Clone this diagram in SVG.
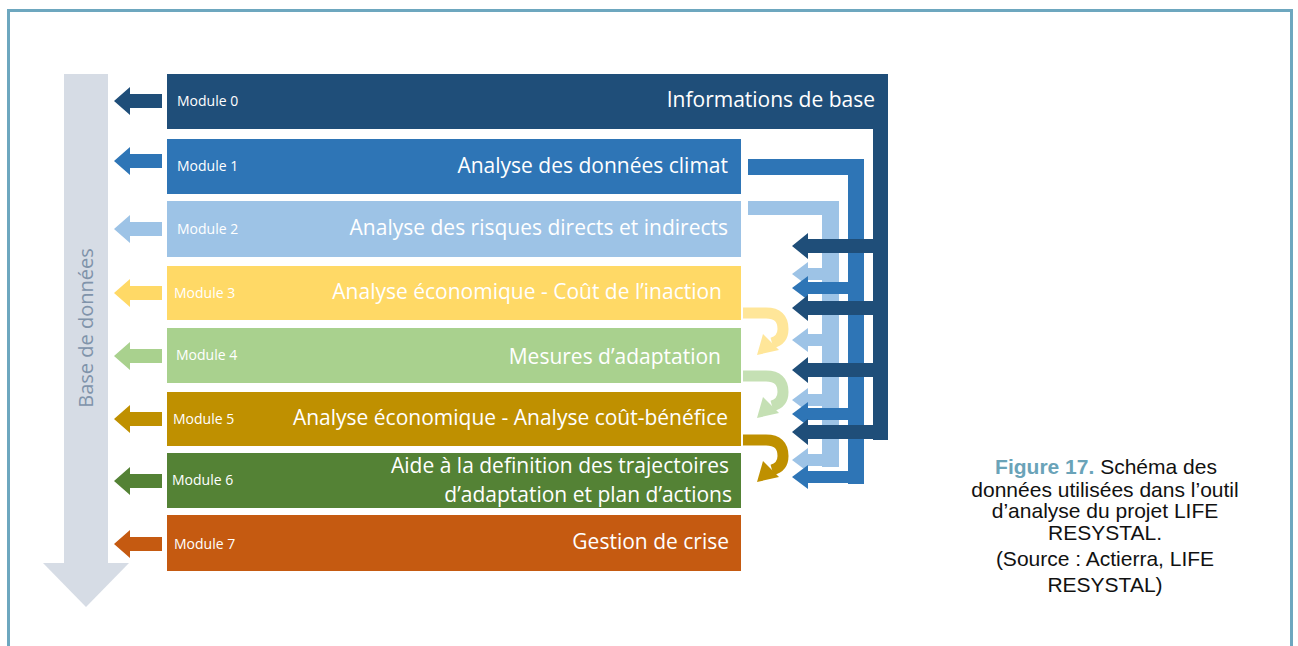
<svg xmlns="http://www.w3.org/2000/svg" width="1298" height="646" viewBox="0 0 1298 646">
<style>
.lbl{font-family:"Open Sans","Noto Sans",sans-serif;font-size:14px;fill:#ffffff}
.ttl{font-family:"Open Sans","Noto Sans",sans-serif;font-size:21px;fill:#ffffff;text-anchor:end}
.cap{font-family:"Liberation Sans",Arial,sans-serif;font-size:21px;fill:#111111;text-anchor:middle}
.c0{fill:#1f4e79}.c1{fill:#2e75b6}.c2{fill:#9dc3e6}.c3{fill:#ffd966}.c4{fill:#a9d18e}.c5{fill:#bf9000}.c6{fill:#548235}.c7{fill:#c55a11}
</style>
<defs>
<polygon id="la" points="0,0 16,-14 16,-7 48,-7 48,7 16,7 16,14"/>
</defs>
<rect width="1298" height="646" fill="#ffffff"/>
<path d="M8.5,646 V10.5 H1291.5 V646" fill="none" stroke="#6da7bf" stroke-width="3"/>

<g id="database">
<rect x="64" y="74" width="44" height="490" fill="#d6dce5"/>
<polygon points="43,563 129,563 86,607" fill="#d6dce5"/>
<text transform="translate(93,328) rotate(-90)" text-anchor="middle" font-family="Open Sans, Noto Sans, sans-serif" font-size="20" fill="#8093aa">Base de données</text>
</g>

<g id="connectors">
<g class="c2">
<path d="M748,201 H839 V467 H822 V215 H748 Z"/>
<polygon points="792,274 808,262 808,268 839,268 839,280 808,280 808,286"/>
<polygon points="792,340 808,328 808,334 839,334 839,346 808,346 808,352"/>
<polygon points="792,400 808,388 808,394 839,394 839,406 808,406 808,412"/>
<polygon points="792,460 808,448 808,454 839,454 839,466 808,466 808,472"/>
</g>
<g class="c1">
<path d="M748,159 H864 V484 H848 V175 H748 Z"/>
<polygon points="792,288 808,276 808,282 864,282 864,294 808,294 808,300"/>
<polygon points="792,414 808,402 808,408 864,408 864,420 808,420 808,426"/>
<polygon points="792,477 808,465 808,471 864,471 864,483 808,483 808,489"/>
</g>
<g class="c0">
<rect x="873" y="74" width="15" height="366"/>
<polygon points="792,246 808,233 808,239 888,239 888,253 808,253 808,259"/>
<polygon points="792,308 808,295 808,301 888,301 888,315 808,315 808,321"/>
<polygon points="792,370 808,357 808,363 888,363 888,377 808,377 808,383"/>
<polygon points="792,432 808,419 808,425 888,425 888,439 808,439 808,445"/>
</g>
<g id="uturn3">
<path d="M743,313 H766 Q783,313 783,329 Q783,340 772,343" fill="none" stroke="#ffe699" stroke-width="11"/>
<polygon points="757,355 779,350 763,334" fill="#ffe699"/>
</g>
<g id="uturn4">
<path d="M743,376 H766 Q783,376 783,392 Q783,403 772,406" fill="none" stroke="#c5e0b4" stroke-width="11"/>
<polygon points="757,418 779,413 763,397" fill="#c5e0b4"/>
</g>
<g id="uturn5">
<path d="M743,440 H766 Q783,440 783,456 Q783,467 772,470" fill="none" stroke="#bf9000" stroke-width="11"/>
<polygon points="757,482 779,477 763,461" fill="#bf9000"/>
</g>
<use href="#la" x="114" y="101" class="c0"/>
<use href="#la" x="114" y="161" class="c1"/>
<use href="#la" x="114" y="229" class="c2"/>
<use href="#la" x="114" y="293" class="c3"/>
<use href="#la" x="114" y="356" class="c4"/>
<use href="#la" x="114" y="419" class="c5"/>
<use href="#la" x="114" y="481" class="c6"/>
<use href="#la" x="114" y="544" class="c7"/>
</g>

<g id="module0">
<path class="c0" d="M167,74 H888 V129 H167 Z"/>
<text class="lbl" x="177" y="106">Module 0</text>
<text class="ttl" x="875" y="107">Informations de base</text>
</g>
<g id="module1">
<rect class="c1" x="167" y="139" width="574" height="55"/>
<text class="lbl" x="177" y="171">Module 1</text>
<text class="ttl" x="728" y="173">Analyse des données climat</text>
</g>
<g id="module2">
<rect class="c2" x="167" y="201" width="574" height="56"/>
<text class="lbl" x="177" y="234">Module 2</text>
<text class="ttl" x="728" y="235">Analyse des risques directs et indirects</text>
</g>
<g id="module3">
<rect class="c3" x="167" y="266" width="574" height="54"/>
<text class="lbl" x="174" y="298">Module 3</text>
<text class="ttl" x="722" y="299">Analyse économique - Coût de l’inaction</text>
</g>
<g id="module4">
<rect class="c4" x="167" y="328" width="574" height="55"/>
<text class="lbl" x="176" y="360">Module 4</text>
<text class="ttl" x="721" y="364">Mesures d’adaptation</text>
</g>
<g id="module5">
<rect class="c5" x="167" y="392" width="574" height="54"/>
<text class="lbl" x="173" y="424">Module 5</text>
<text class="ttl" x="728" y="425">Analyse économique - Analyse coût-bénéfice</text>
</g>
<g id="module6">
<rect class="c6" x="167" y="453" width="574" height="55"/>
<text class="lbl" x="172" y="485">Module 6</text>
<text class="ttl" x="729" y="473">Aide à la definition des trajectoires</text>
<text class="ttl" x="732" y="502">d’adaptation et plan d’actions</text>
</g>
<g id="module7">
<rect class="c7" x="167" y="515" width="574" height="56"/>
<text class="lbl" x="174" y="549">Module 7</text>
<text class="ttl" x="729" y="549">Gestion de crise</text>
</g>

<g id="caption">
<text class="cap" x="1106" y="474"><tspan font-weight="bold" fill="#6aa3b8">Figure 17.</tspan> Schéma des</text>
<text class="cap" x="1105" y="497">données utilisées dans l’outil</text>
<text class="cap" x="1105" y="518">d’analyse du projet LIFE</text>
<text class="cap" x="1105" y="540">RESYSTAL.</text>
<text class="cap" x="1105" y="566">(Source : Actierra, LIFE</text>
<text class="cap" x="1105" y="592">RESYSTAL)</text>
</g>
</svg>
